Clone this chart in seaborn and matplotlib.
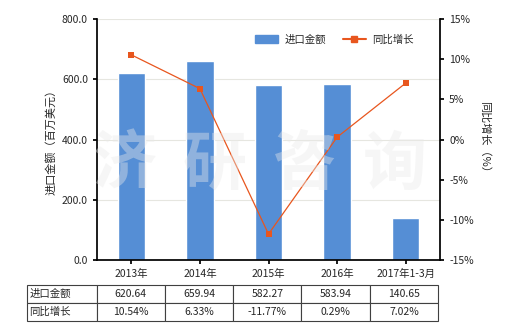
import matplotlib
matplotlib.use("Agg")
import matplotlib.pyplot as plt
import seaborn as sns
import pandas as pd
from matplotlib.lines import Line2D
from matplotlib.patches import Patch

categories = ["2013年", "2014年", "2015年", "2016年", "2017年1-3月"]
import_values = [620.64, 659.94, 582.27, 583.94, 140.65]
growth_pct = [10.54, 6.33, -11.77, 0.29, 7.02]
bar_label = "进口金额"
line_label = "同比增长"
left_ylabel = "进口金额（百万美元）"
right_ylabel = "同比增长（%）"
watermark_chars = ["济", "研", "咨", "询"]

sns.set_theme(style="white")
plt.rcParams['font.family'] = ['Noto Sans CJK SC', 'DejaVu Sans']
plt.rcParams['axes.unicode_minus'] = False

df = pd.DataFrame({"cat": categories, "val": import_values, "g": growth_pct})

fig = plt.figure(figsize=(5.2, 3.3), dpi=100)
ax = fig.add_axes([97/520, 1-260/330, 343/520, 241/330])
bar_color = "#558ED5"
line_color = "#E8561E"

sns.barplot(data=df, x="cat", y="val", color=bar_color, width=0.4, ax=ax, saturation=1)
ax.set_ylim(0, 800)
ax.set_yticks([0, 200, 400, 600, 800])
ax.set_yticklabels([f"{v:.1f}" for v in [0, 200, 400, 600, 800]], fontsize=7.5)
ax.set_xlabel("")
ax.set_ylabel(left_ylabel, fontsize=8)
ax.tick_params(axis='x', labelsize=7.5, length=3, color='black', direction='out', bottom=True)
ax.tick_params(axis='y', length=3, color='black', direction='out', left=True)
ax.grid(axis='y', color='#E6E6E0', linewidth=0.8)
ax.set_axisbelow(True)
for s in ['top', 'right']:
    ax.spines[s].set_visible(False)
ax.spines['left'].set_color('black')
ax.spines['bottom'].set_color('black')

ax2 = ax.twinx()
sns.lineplot(x=list(range(len(categories))), y=growth_pct, ax=ax2, color=line_color,
             linewidth=0.9, marker='s', markersize=5, markeredgewidth=0, sort=False)
ax2.set_ylim(-15, 15)
ax2.set_yticks([-15, -10, -5, 0, 5, 10, 15])
ax2.set_yticklabels([f"{v}%" for v in [-15, -10, -5, 0, 5, 10, 15]], fontsize=7.5)
ax2.set_ylabel(right_ylabel, fontsize=8, rotation=270, labelpad=12)
ax2.tick_params(axis='y', length=3, color='black', direction='out', right=True)
for s in ['top', 'left', 'bottom']:
    ax2.spines[s].set_visible(False)
ax2.spines['right'].set_color('black')
ax.set_xlim(-0.5, len(categories) - 0.5)

# watermark
for i, ch in enumerate(watermark_chars):
    fig.text((125 + i * 90) / 520, 0.5, ch, fontsize=46, color='#EAEAEA', alpha=0.4,
             ha='center', va='center', fontweight='bold', zorder=5)

handles = [Patch(color=bar_color, label=bar_label),
           Line2D([0], [0], color=line_color, marker='s', markersize=4, linewidth=1.5, label=line_label)]
ax2.legend(handles=handles, loc='upper right', bbox_to_anchor=(0.95, 0.975), ncol=2, frameon=False,
           fontsize=7.5, handlelength=2.2, columnspacing=1.6, handletextpad=0.6)

# table
rows = [[bar_label] + [f"{v:.2f}" for v in import_values],
        [line_label] + [f"{v:.2f}%" for v in growth_pct]]
tb = ax.table(cellText=rows, bbox=[(27-97)/343, -(321-260)/241, (438-27)/343, 36/241],
              cellLoc='center', colWidths=[70] + [68.6]*5)
tb.auto_set_font_size(False)
tb.set_fontsize(7.5)
for (r, c), cell in tb.get_celld().items():
    cell.set_edgecolor('#404040')
    cell.set_linewidth(0.8)
    if c == 0:
        cell.set_text_props(ha='left')
        cell.PAD = 0.03

fig.savefig("out.png", dpi=100)
